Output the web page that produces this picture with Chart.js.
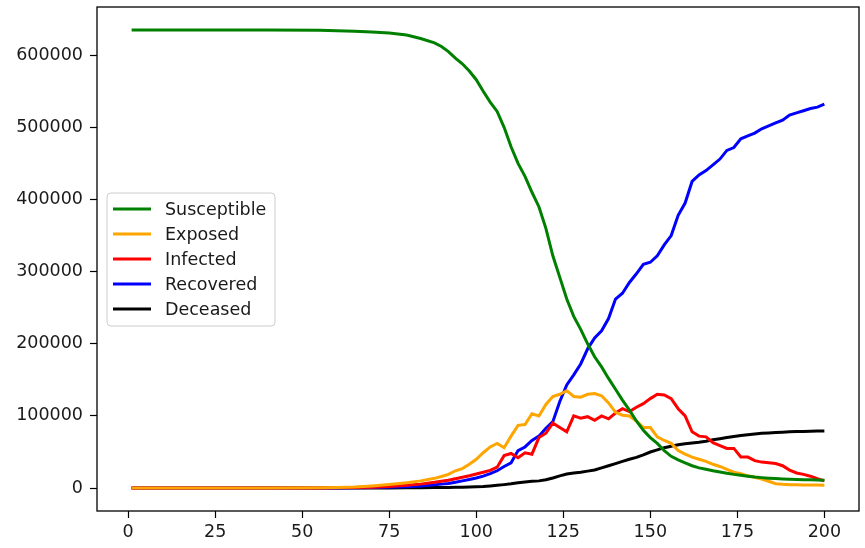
<!DOCTYPE html>
<html>
<head>
<meta charset="utf-8">
<script src="https://cdn.jsdelivr.net/npm/chart.js@4.4.1/dist/chart.umd.min.js"></script>
<style>
  body { margin: 0; background: #fff; }
  #wrap { width: 865px; height: 548px; }
</style>
</head>
<body>
<div id="wrap"><canvas id="seird"></canvas></div>
<script>
// days sampled from the plot
const days = [1, 20, 40, 55, 60, 65, 70, 75, 80, 84, 88,
  90, 92, 94, 96, 98, 100, 102, 104, 106, 108, 110, 112, 114, 116, 118, 120,
  122, 124, 126, 128, 130, 132, 134, 136, 138, 140, 142, 144, 146, 148, 150,
  152, 154, 156, 158, 160, 162, 164, 166, 168, 170, 172, 174, 176, 178, 180,
  182, 184, 186, 188, 190, 192, 194, 196, 198, 200];

const susceptible = [635000, 635000, 634900, 634500, 634000, 633200, 632200, 630800, 628000, 623000, 617000,
  612000, 605000, 596000, 588000, 578000, 566000, 550000, 535000, 522000, 500000, 473000, 450000, 432000, 410000, 390000, 360000,
  322000, 292000, 262000, 238000, 220000, 200000, 182000, 168000, 152000, 137000, 122000, 108000, 93000, 80000, 70000,
  62000, 52000, 44000, 39000, 35000, 31000, 28000, 26000, 24000, 22300, 20500, 19000, 17800, 16500, 15300,
  14500, 13800, 13200, 12700, 12300, 12000, 11700, 11400, 11200, 11000];

const exposed = [0, 0, 100, 400, 700, 1500, 3000, 5000, 7500, 10000, 13500,
  16000, 19000, 24000, 27000, 33000, 40000, 49000, 57000, 62000, 56000, 72000, 87000, 88000, 103000, 100000, 116000,
  127000, 130000, 135000, 127000, 126000, 130000, 131000, 128000, 118000, 105000, 101000, 100000, 93000, 84000, 84000,
  71000, 66000, 62000, 52000, 47000, 43000, 40000, 37000, 33000, 30000, 26000, 22000, 20000, 17000, 15000,
  12500, 9500, 6000, 5200, 4800, 4600, 4400, 4300, 4200, 4100];

const infected = [0, 0, 50, 200, 400, 700, 1200, 2200, 4000, 5500, 8000,
  9500, 11000, 13000, 15000, 17000, 19500, 22000, 24500, 29000, 45000, 48000, 42000, 49000, 47000, 70000, 76000,
  90000, 84000, 78000, 100000, 97000, 99000, 94000, 100000, 96000, 104000, 110000, 106000, 112000, 117000, 124000,
  130000, 129000, 124000, 110000, 100000, 78000, 72000, 71000, 63000, 59000, 55000, 55000, 43000, 43000, 38000,
  36000, 35000, 34000, 31000, 25000, 21000, 19000, 16500, 13000, 10000];

const recovered = [0, 0, 0, 100, 200, 400, 700, 1200, 2000, 3000, 4500,
  5500, 6500, 8000, 10000, 12000, 14000, 16500, 20000, 24000, 30000, 35000, 52000, 57000, 66000, 72000, 83000,
  92000, 120000, 143000, 157000, 172000, 193000, 208000, 218000, 235000, 262000, 270000, 285000, 297000, 310000, 313000,
  322000, 337000, 350000, 378000, 395000, 425000, 434000, 440000, 448000, 456000, 468000, 472000, 484000, 488000, 492000,
  498000, 502000, 506000, 510000, 517000, 520000, 523000, 526000, 528000, 532000];

const deceased = [0, 0, 0, 0, 50, 100, 150, 250, 400, 500, 700,
  800, 900, 1000, 1200, 1400, 1700, 2200, 3000, 3800, 4800, 6000, 7500, 8500, 9500, 10000, 11500,
  14000, 17000, 19500, 21000, 22000, 23500, 25000, 28000, 31000, 34000, 37000, 40000, 42500, 46000, 50000,
  53000, 56000, 58000, 60000, 61500, 62500, 63500, 65000, 67000, 68500, 70000, 71500, 73000, 74000, 75000,
  76000, 76500, 77000, 77500, 78000, 78300, 78600, 78800, 79000, 79200];

const xTicks = [0, 25, 50, 75, 100, 125, 150, 175, 200];
const yTicks = [0, 100000, 200000, 300000, 400000, 500000, 600000];

const labels = ['Susceptible', 'Exposed', 'Infected', 'Recovered', 'Deceased'];
const colores = ['#008000', '#ffa500', '#ff0000', '#0000ff', '#000000'];
const series = [susceptible, exposed, infected, recovered, deceased];

const FONT = '"DejaVu Sans", sans-serif';

function puntos(vals) {
  return days.map(function (d, i) { return { x: d, y: vals[i] }; });
}

// frame box + legend drawn inside the plot, like matplotlib
const marcoYLeyenda = {
  id: 'marcoYLeyenda',
  afterDraw(chart) {
    const ctx = chart.ctx;
    const a = chart.chartArea;
    ctx.save();
    ctx.strokeStyle = '#000';
    ctx.lineWidth = 1.3;
    ctx.strokeRect(a.left, a.top, a.right - a.left, a.bottom - a.top);

    // legend box
    const bx = a.left + 10, by = 193, bw = 168, bh = 133, r = 4;
    ctx.beginPath();
    ctx.moveTo(bx + r, by);
    ctx.arcTo(bx + bw, by, bx + bw, by + bh, r);
    ctx.arcTo(bx + bw, by + bh, bx, by + bh, r);
    ctx.arcTo(bx, by + bh, bx, by, r);
    ctx.arcTo(bx, by, bx + bw, by, r);
    ctx.closePath();
    ctx.fillStyle = 'rgba(255,255,255,0.8)';
    ctx.fill();
    ctx.strokeStyle = '#cccccc';
    ctx.lineWidth = 1;
    ctx.stroke();

    ctx.font = '17.5px ' + FONT;
    ctx.textBaseline = 'middle';
    ctx.textAlign = 'left';
    chart.data.datasets.forEach(function (ds, i) {
      const yy = by + 16 + i * 25;
      ctx.strokeStyle = ds.borderColor;
      ctx.lineWidth = 3;
      ctx.beginPath();
      ctx.moveTo(bx + 6, yy);
      ctx.lineTo(bx + 44, yy);
      ctx.stroke();
      ctx.fillStyle = '#1a1a1a';
      ctx.fillText(ds.label, bx + 58, yy + 1);
    });
    ctx.restore();
  }
};

const ctx = document.getElementById('seird').getContext('2d');
const grafico = new Chart(ctx, {
  type: 'line',
  data: {
    datasets: labels.map(function (l, i) {
      return {
        label: l,
        data: puntos(series[i]),
        borderColor: colores[i],
        backgroundColor: colores[i],
        borderWidth: 3,
        pointRadius: 0,
        tension: 0,
        fill: false
      };
    })
  },
  options: {
    responsive: true,
    maintainAspectRatio: false,
    animation: false,
    layout: { padding: { left: 0, top: 7, right: 6, bottom: 0 } },
    plugins: {
      legend: { display: false },
      tooltip: { enabled: false }
    },
    scales: {
      x: {
        type: 'linear',
        min: -8.95,
        max: 209.95,
        afterBuildTicks: function (s) { s.ticks = xTicks.map(function (v) { return { value: v }; }); },
        afterFit: function (s) { s.height = 37; s.paddingLeft = 0; s.paddingRight = 0; },
        grid: { drawOnChartArea: false, drawTicks: true, tickLength: 7, tickColor: '#000', tickWidth: 1.2 },
        border: { display: false },
        ticks: { color: '#1a1a1a', padding: 4, maxRotation: 0, autoSkip: false, font: { family: FONT, size: 17.5 } }
      },
      y: {
        type: 'linear',
        min: -31750,
        max: 666750,
        afterBuildTicks: function (s) { s.ticks = yTicks.map(function (v) { return { value: v }; }); },
        afterFit: function (s) { s.width = 97; s.paddingTop = 0; s.paddingBottom = 0; },
        grid: { drawOnChartArea: false, drawTicks: true, tickLength: 7, tickColor: '#000', tickWidth: 1.2 },
        border: { display: false },
        ticks: {
          color: '#1a1a1a', padding: 7, autoSkip: false,
          font: { family: FONT, size: 17.5 },
          callback: function (v) { return String(v); }
        }
      }
    }
  },
  plugins: [marcoYLeyenda]
});
</script>
</body>
</html>
